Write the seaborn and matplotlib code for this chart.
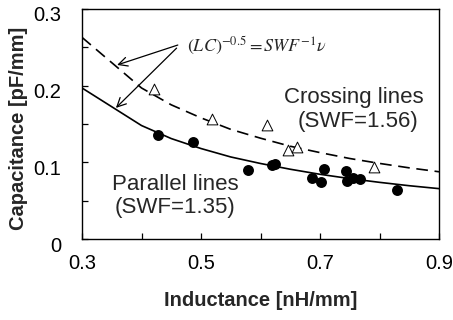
import matplotlib
matplotlib.use("Agg")
import matplotlib.pyplot as plt
import matplotlib.transforms as mtransforms
from matplotlib.ticker import MultipleLocator, FixedLocator
import seaborn as sns
import pandas as pd

# ---- data ----
par_L = [0.428, 0.486, 0.579, 0.620, 0.624, 0.687, 0.706, 0.702, 0.743, 0.745, 0.756, 0.767, 0.830]
par_C = [0.136, 0.126, 0.090, 0.097, 0.098, 0.080, 0.091, 0.075, 0.089, 0.076, 0.079, 0.078, 0.064]
cross_L = [0.421, 0.518, 0.611, 0.646, 0.662, 0.791]
cross_C = [0.195, 0.157, 0.149, 0.116, 0.120, 0.094]

curve_L = [0.3, 0.4, 0.45, 0.5, 0.55, 0.6, 0.65, 0.7, 0.75, 0.8, 0.85, 0.9]
fit_par_C = [0.197, 0.148, 0.131, 0.118, 0.107, 0.0985, 0.091, 0.0844, 0.0788, 0.0739, 0.0695, 0.0657]
fit_cross_C = [0.263, 0.197, 0.175, 0.158, 0.143, 0.1315, 0.121, 0.1127, 0.105, 0.0986, 0.0928, 0.0877]

x_ticks = [0.3, 0.5, 0.7, 0.9]
x_minor = [0.4, 0.6, 0.8]
y_ticks = [0, 0.1, 0.2, 0.3]
y_tick_labels = ["0", "0.1", "0.2", "0.3"]

sns.set_style("ticks")
plt.rcParams["font.family"] = ["Liberation Sans", "DejaVu Sans"]
plt.rcParams["mathtext.fontset"] = "stix"

fig = plt.figure(figsize=(4.53, 3.2), dpi=100)
ax = fig.add_axes([82 / 453, 1 - 239 / 320, (439 - 82) / 453, (239 - 9) / 320])

df_fit = pd.DataFrame({"L": curve_L, "par": fit_par_C, "cross": fit_cross_C})
sns.lineplot(data=df_fit, x="L", y="par", ax=ax, color="black", lw=1.2, sort=False)
sns.lineplot(data=df_fit, x="L", y="cross", ax=ax, color="black", lw=1.2, sort=False)
ax.lines[-1].set_dashes((7, 4))

sns.scatterplot(x=cross_L, y=cross_C, ax=ax, marker="^", s=60, facecolor="white",
                edgecolor="black", linewidth=0.7, zorder=3)
sns.scatterplot(x=par_L, y=par_C, ax=ax, marker="o", s=62, color="black",
                edgecolor="black", linewidth=0, zorder=4)

ax.set_xlim(0.3, 0.9)
ax.set_ylim(0, 0.3)
ax.xaxis.set_major_locator(FixedLocator(x_ticks))
ax.xaxis.set_minor_locator(FixedLocator(x_minor))
ax.set_xticklabels([f"{v:.1f}" for v in x_ticks])
ax.yaxis.set_major_locator(FixedLocator(y_ticks))
ax.yaxis.set_minor_locator(MultipleLocator(0.05))
ax.set_yticklabels(y_tick_labels)

ax.tick_params(axis="both", which="both", direction="in", length=4, width=0.9,
               colors="black", labelsize=14.5)
ax.tick_params(axis="x", which="major", pad=11)
ax.tick_params(axis="y", which="major", pad=15)
offset = mtransforms.ScaledTranslation(0, -5 / 100, fig.dpi_scale_trans)
for lab in ax.get_yticklabels():
    lab.set_transform(lab.get_transform() + offset)

for s in ax.spines.values():
    s.set_visible(True)
    s.set_color("black")
    s.set_linewidth(1.0)

ax.set_xlabel("Inductance [nH/mm]", fontsize=14.5, fontweight="bold", va="center", ha="center")
ax.set_ylabel("Capacitance [pF/mm]", fontsize=14.5, fontweight="bold", va="center", ha="center")
ax.xaxis.set_label_coords(0.5, -(301 - 239) / 230)
ax.yaxis.set_label_coords(-(82 - 19) / 357, (239 - 128) / 230)

ax.text((353.5 - 82) / 357, (239 - 97) / 230, "Crossing lines",
        transform=ax.transAxes, fontsize=16, ha="center", va="center")
ax.text((358 - 82) / 357, (239 - 122) / 230, "(SWF=1.56)",
        transform=ax.transAxes, fontsize=16, ha="center", va="center")
ax.text((175.5 - 82) / 357, (239 - 184) / 230, "Parallel lines",
        transform=ax.transAxes, fontsize=16, ha="center", va="center")
ax.text((175.5 - 82) / 357, (239 - 207) / 230, "(SWF=1.35)",
        transform=ax.transAxes, fontsize=16, ha="center", va="center")

ax.text((187 - 82) / 357, (239 - 46) / 230, r"$(LC)^{-0.5}=SWF^{-1}\nu$",
        transform=ax.transAxes, fontsize=13, ha="left", va="center")

arrow = dict(arrowstyle="->", color="black", lw=0.9, mutation_scale=16, shrinkA=0, shrinkB=0)
ax.annotate("", xy=(0.359, 0.227), xytext=(0.461, 0.253), arrowprops=arrow)
ax.annotate("", xy=(0.357, 0.171), xytext=(0.459, 0.249), arrowprops=arrow)

fig.savefig("out.png", dpi=100)
